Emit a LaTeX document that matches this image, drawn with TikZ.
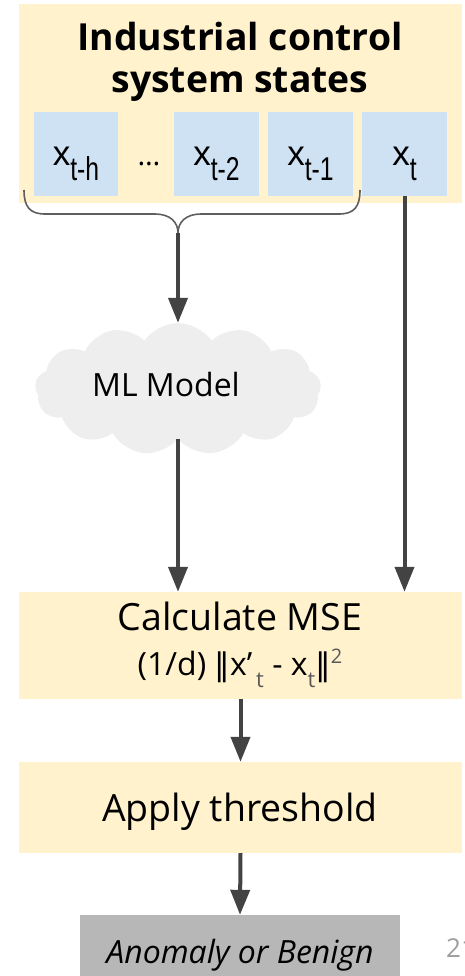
\documentclass[tikz,border=0pt]{standalone}
\usepackage{fontspec}
\usepackage{graphicx}
\setmainfont{Open Sans}
\newfontfamily\arialfont{Liberation Sans}
\newfontfamily\normsymfont{DejaVu Sans}
\usetikzlibrary{shapes.symbols,arrows.meta}
\definecolor{panel}{HTML}{FFF2CC}
\definecolor{cell}{HTML}{CFE2F3}
\definecolor{outcome}{HTML}{B7B7B7}
\definecolor{flow}{HTML}{434343}
\definecolor{puff}{HTML}{EEEEEE}
\definecolor{subgrey}{HTML}{595959}
\definecolor{pagegrey}{HTML}{9E9E9E}
% state symbol x with a lowered, narrow index, set in an Arial-like face
\newcommand{\statevar}[1]{{\arialfont\fontsize{35}{40}\selectfont x\raisebox{-15pt}{\scalebox{0.75}[1]{\fontsize{33}{36}\selectfont #1}}}}
\newcommand{\lowidx}[1]{\raisebox{-12pt}{\color{subgrey}\fontsize{22}{22}\selectfont #1}}
\newcommand{\normbar}{{\normsymfont\fontsize{31}{33}\selectfont ‖}}
\begin{document}
\begin{tikzpicture}[x=1pt,y=-1pt,
  panelbox/.style={fill=panel, draw=none, inner sep=0pt},
  cellbox/.style={fill=cell, draw=none, inner sep=0pt, minimum height=84, minimum width=85},
  statelabel/.style={anchor=base, inner sep=0pt},
  flowarrow/.style={draw=flow, line width=4pt, -{Triangle[length=25pt,width=19pt]}},
  bracestyle/.style={draw=flow!85, line width=1.6pt},
  steptext/.style={font=\fontsize{37.5}{42}\selectfont, inner sep=0pt, align=center}]
\useasboundingbox (0,0) rectangle (464,976);

% input panel with the window of states
\node[panelbox, minimum width=443, minimum height=199] (panel) at (240.5,103.5) {};
\node[inner sep=0pt, align=center, anchor=base, font=\bfseries\fontsize{37.3}{42}\selectfont] (title) at (240,93) {Industrial control\\system states};
\node[cellbox, minimum width=84] (c1) at (76,154) {};
\node[cellbox] (c2) at (216.5,154) {};
\node[cellbox] (c3) at (310.5,154) {};
\node[cellbox] (c4) at (404.5,154) {};
\node[statelabel] (l1) at (76,166) {\statevar{t-h}};
\node[statelabel] (l2) at (216.5,166) {\statevar{t-2}};
\node[statelabel] (l3) at (310.5,166) {\statevar{t-1}};
\node[statelabel] (l4) at (404.5,166) {\statevar{t}};
\node[inner sep=0pt, anchor=base, font=\fontsize{29}{29}\selectfont] (dots) at (149,166) {\dots};

% brace over the history window
\coordinate (tip) at (178,233);
\draw[bracestyle] (24,190) .. controls (24,207) and (30,214) .. (45,214) -- (155,214)
  .. controls (170,214) and (178,222) .. (tip)
  .. controls (178,222) and (186,214) .. (201,214) -- (339,214)
  .. controls (354,214) and (360,207) .. (360,190);

% model
\node[cloud, cloud puffs=13, cloud puff arc=110, aspect=2.1, fill=puff, draw=none,
  minimum width=286, minimum height=132, inner sep=0pt] (ml) at (178,389) {};
\node[inner sep=0pt, font=\fontsize{32}{34}\selectfont] (mltext) at (166,384) {ML Model};

% processing steps
\node[panelbox, minimum width=443, minimum height=107] (mse) at (240.5,645.5) {};
\node[steptext, anchor=base] (msetitle) at (240,630) {Calculate MSE};
\node[inner sep=0pt, anchor=base, font=\fontsize{32}{34}\selectfont] (formula) at (240,675)
  {(1/d) \normbar x’\hspace{4pt}\lowidx{t} - x\lowidx{t}\normbar\raisebox{12pt}{\color{subgrey}\fontsize{20}{20}\selectfont 2}};
\node[panelbox, minimum width=443, minimum height=91] (thr) at (240.5,807.5) {};
\node[steptext, anchor=base] (thrtext) at (240,821) {Apply threshold};
\node[fill=outcome, draw=none, inner sep=0pt, minimum width=320, minimum height=72] (out) at (240,951) {};
\node[inner sep=0pt, anchor=base, font=\itshape\fontsize{32}{34}\selectfont] (outtext) at (240,963) {Anomaly or Benign};
\node[inner sep=0pt, anchor=base west, text=pagegrey, font=\fontsize{26}{26}\selectfont] (page) at (446,957) {21};

% connectors
\draw[flowarrow] (tip) -- (ml.north);
\draw[flowarrow] (ml.south) -- (ml.south |- mse.north);
\draw[flowarrow] (c4.south) -- (c4.south |- mse.north);
\draw[flowarrow] (mse.south) -- (thr.north);
\draw[flowarrow] (thr.south) -- (out.north);
\end{tikzpicture}
\end{document}
